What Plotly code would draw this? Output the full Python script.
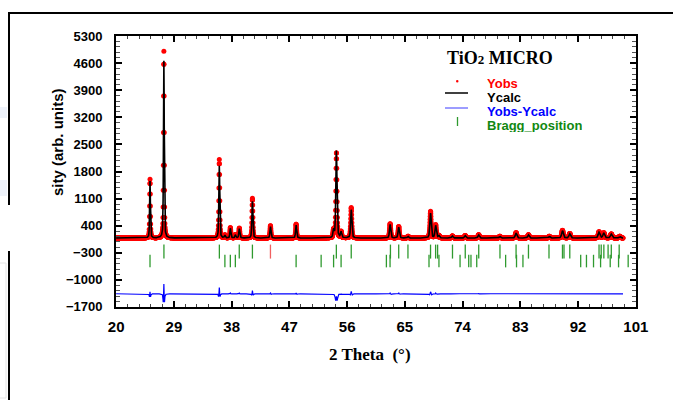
import numpy as np
import plotly.graph_objects as go

# ---- data -----------------------------------------------------------------
# 2-theta scan limits and step (degrees)
scan_start, scan_end, scan_step = 20.0, 99.0, 0.02
background = 80.0

# refined reflections: position (deg), calculated and observed net intensity
peak_pos = [25.28, 27.44, 36.08, 36.95, 37.80, 38.58, 39.20, 41.24, 44.05,
            48.05, 53.89, 54.33, 55.06, 56.64, 62.70, 64.04, 65.50, 69.00,
            69.80, 70.30, 72.40, 74.40, 76.50, 79.80, 82.33, 84.26, 87.50,
            89.56, 90.70, 95.26, 96.00, 97.17, 98.50]
peak_calc = [1470, 4580, 1870, 70, 250, 80, 240, 950, 300,
             340, 190, 2270, 150, 730, 350, 280, 40, 640,
             320, 60, 50, 60, 80, 40, 130, 80, 40,
             190, 110, 150, 130, 100, 40]
peak_obs = [1520, 4830, 2030, 80, 270, 90, 260, 1030, 320,
            360, 200, 2210, 160, 790, 370, 300, 45, 690,
            340, 65, 55, 65, 85, 45, 140, 85, 45,
            200, 115, 160, 135, 105, 45]
obs_width_ratio = 0.9       # observed peaks are slightly sharper than the model
diff_offset = -1360         # vertical offset of the difference curve

# Bragg reflection markers (two phases)
bragg_rutile = [27.45, 36.09, 39.19, 41.24, 44.05, 54.32, 56.64, 62.75,
                64.04, 65.48, 69.00, 69.79, 70.10, 72.42, 74.41, 76.51,
                79.82, 82.33, 84.26, 87.46, 89.56, 89.80, 90.70, 95.26,
                95.60, 96.01, 96.67, 97.17, 98.40]
bragg_anatase = [25.28, 36.95, 37.80, 38.58, 48.05, 51.95, 53.89, 55.06,
                 62.12, 62.69, 68.76, 70.31, 73.60, 74.95, 75.30, 76.20,
                 80.70, 82.40, 83.40, 92.40, 93.30, 94.40, 95.50, 97.00,
                 98.30, 99.80]
bragg_rutile_y = -270
bragg_anatase_y = -515

x_ticks = [20, 29, 38, 47, 56, 65, 74, 83, 92, 101]
y_ticks = [-1700, -1000, -300, 400, 1100, 1800, 2500, 3200, 3900, 4600, 5300]

# ---- profiles -------------------------------------------------------------
tt = np.arange(scan_start, scan_end + scan_step / 2, scan_step)


def pseudo_voigt(x, center, height, scale=1.0, eta=0.45):
    fwhm = (0.13 + 0.0025 * (center - 20.0)) * scale
    g = np.exp(-4 * np.log(2) * ((x - center) / fwhm) ** 2)
    l = 1.0 / (1.0 + 4 * ((x - center) / fwhm) ** 2)
    return height * (eta * l + (1 - eta) * g)


y_calc = np.full_like(tt, background)
y_obs = np.full_like(tt, background)
for p, hc, ho in zip(peak_pos, peak_calc, peak_obs):
    y_calc += pseudo_voigt(tt, p, hc)
    y_obs += pseudo_voigt(tt, p, ho, obs_width_ratio)
y_diff = y_obs - y_calc + diff_offset

# ---- figure ---------------------------------------------------------------
W, H = 673, 400
L, R, T, B = 116, 37, 36, 93
PW, PH = W - L - R, H - T - B


def px(x):
    return (x - L) / PW


def py(y):
    return (H - B - y) / PH


SANS = "Liberation Sans, Arial, sans-serif"
SERIF = "Liberation Serif, Times New Roman, serif"
GREEN = "#2f9a2f"

fig = go.Figure()
fig.add_trace(go.Scatter(x=tt, y=y_obs, mode="markers",
                         marker=dict(color="#ff0000", size=5, line=dict(width=0)),
                         name="Yobs", showlegend=False))
fig.add_trace(go.Scatter(x=tt, y=y_calc, mode="lines",
                         line=dict(color="black", width=1.6),
                         name="Ycalc", showlegend=False))
fig.add_trace(go.Scatter(x=tt, y=y_diff, mode="lines",
                         line=dict(color="#0000ff", width=1.2),
                         name="Yobs-Ycalc", showlegend=False))
rutile_colors = [("#f06060" if abs(p - 44.05) < 0.01 else GREEN) for p in bragg_rutile]
fig.add_trace(go.Scatter(x=bragg_rutile, y=[bragg_rutile_y] * len(bragg_rutile),
                         mode="markers",
                         marker=dict(symbol="line-ns", size=10,
                                     line=dict(color=rutile_colors, width=1.3)),
                         showlegend=False))
fig.add_trace(go.Scatter(x=bragg_anatase, y=[bragg_anatase_y] * len(bragg_anatase),
                         mode="markers",
                         marker=dict(symbol="line-ns", size=9,
                                     line=dict(color=GREEN, width=1.3)),
                         showlegend=False))

axis_common = dict(showgrid=False, zeroline=False, showline=True,
                   linecolor="black", linewidth=2, mirror="allticks",
                   ticks="inside", tickcolor="black", tickwidth=1.5)

fig.update_xaxes(range=[19.98, 101.02], tickvals=x_ticks,
                 ticklen=6, ticklabelstandoff=5,
                 tickfont=dict(family=SANS, size=15, color="black", weight="bold"),
                 minor=dict(tick0=20, dtick=1.8, ticks="inside", ticklen=3,
                            tickcolor="#444444", tickwidth=1),
                 **axis_common)
fig.update_yaxes(range=[-1702, 5302], tickvals=y_ticks,
                 ticklen=6, ticklabelstandoff=9,
                 tickfont=dict(family=SANS, size=13, color="black", weight="bold"),
                 minor=dict(tick0=-1700, dtick=140, ticks="inside", ticklen=4,
                            tickcolor="#555555", tickwidth=1),
                 **axis_common)


def label(x, y, text, font, xanchor="center", **kw):
    return dict(x=px(x), y=py(y), xref="paper", yref="paper", text=text,
                showarrow=False, xanchor=xanchor, yanchor="middle", font=font, **kw)


ann = []
# axis titles
ann.append(label(370, 354, "2 Theta  (°)",
                 dict(family=SERIF, size=17, color="black", weight="bold")))
ann.append(label(57, 142, "sity (arb. units)",
                 dict(family=SANS, size=15, color="black", weight="bold"),
                 textangle=-90))
# sample name
ann.append(label(445, 58, "TiO<span style='font-size:13px'>2</span> MICRO",
                 dict(family=SERIF, size=18, color="black", weight="bold"),
                 xanchor="left"))
# legend
legend_rows = [("Yobs", "#ff0000", 83), ("Ycalc", "black", 97),
               ("Yobs-Ycalc", "#0000ff", 111), ("Bragg_position", "#118811", 125)]
for text, col, yy in legend_rows:
    ann.append(label(486, yy, text,
                     dict(family=SANS, size=13, color=col, weight="bold"),
                     xanchor="left", height=14, borderpad=0))

shapes = []
# legend symbols
shapes.append(dict(type="circle", xref="paper", yref="paper",
                   x0=px(456), x1=px(458.5), y0=py(80), y1=py(82.5),
                   fillcolor="#ff0000", line=dict(width=0)))
shapes.append(dict(type="line", xref="paper", yref="paper",
                   x0=px(445), x1=px(468), y0=py(93), y1=py(93),
                   line=dict(color="black", width=1.5)))
shapes.append(dict(type="line", xref="paper", yref="paper",
                   x0=px(445), x1=px(468), y0=py(108), y1=py(108),
                   line=dict(color="#3a3aff", width=1)))
shapes.append(dict(type="line", xref="paper", yref="paper",
                   x0=px(457.5), x1=px(457.5), y0=py(117), y1=py(126),
                   line=dict(color=GREEN, width=1.3)))
# outer window frame
shapes.append(dict(type="line", xref="paper", yref="paper",
                   x0=px(8), x1=px(675), y0=py(13), y1=py(13),
                   line=dict(color="black", width=2)))
shapes.append(dict(type="line", xref="paper", yref="paper",
                   x0=px(9), x1=px(9), y0=py(12), y1=py(205),
                   line=dict(color="black", width=2)))
shapes.append(dict(type="line", xref="paper", yref="paper",
                   x0=px(9), x1=px(9), y0=py(251), y1=py(402),
                   line=dict(color="black", width=2)))
# faint panels behind the window edge
for y0, y1 in [(107, 118), (180, 196)]:
    shapes.append(dict(type="rect", xref="paper", yref="paper",
                       x0=px(-2), x1=px(7), y0=py(y0), y1=py(y1),
                       fillcolor="#eef2fa", line=dict(width=0)))
shapes.append(dict(type="rect", xref="paper", yref="paper",
                   x0=px(-2), x1=px(6), y0=py(263), y1=py(398),
                   fillcolor="rgba(0,0,0,0)", line=dict(color="#e4e4e4", width=1)))

fig.update_layout(width=W, height=H, margin=dict(l=L, r=R, t=T, b=B),
                  paper_bgcolor="white", plot_bgcolor="white",
                  showlegend=False, annotations=ann, shapes=shapes)

fig.write_html("out.html")
